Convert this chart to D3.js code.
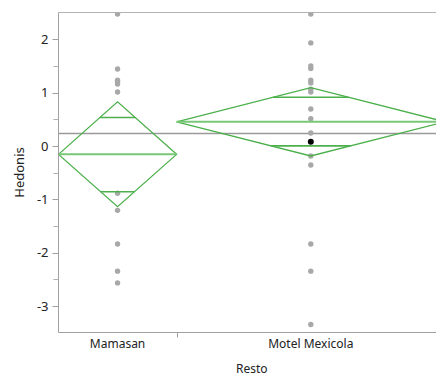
<!DOCTYPE html>
<html>
<head>
<meta charset="utf-8">
<script src="https://cdn.jsdelivr.net/npm/d3@7"></script>
<style>
  html, body { margin: 0; padding: 0; background: #fff; overflow: hidden; }
  svg { display: block; font-family: "Noto Sans", "Open Sans", sans-serif; }
</style>
</head>
<body>
<svg id="chart" width="436" height="376"></svg>
<script>
// ---- Data ----
const groups = ["Mamasan", "Motel Mexicola"];
const groupCounts = [11, 25];
const mamasanValues = [2.47, 1.44, 1.23, 1.20, 1.16, 1.01, -0.89, -1.21, -1.84, -2.35, -2.57];
const motelValues = [2.47, 1.93, 1.50, 1.45, 1.23, 1.18, 1.06, 1.01, 0.69, 0.51, 0.24, -0.19, -0.36, -1.84, -2.35, -3.35];
const highlightedValues = [null, 0.075];
const groupMeans = [-0.16, 0.45];
const ciUpper = [0.825, 1.09];
const ciLower = [-1.14, -0.19];
const overlapUpper = [0.53, 0.91];
const overlapLower = [-0.86, 0.0];
const grandMean = 0.25;
const yTicks = [-3, -2, -1, 0, 1, 2];
const yMinorTicks = [-2.5, -1.5, -0.5, 0.5, 1.5];
const yTitle = "Hedonis";
const xTitle = "Resto";

const groupValues = [mamasanValues, motelValues];

// ---- Layout ----
const svg = d3.select("#chart");
const L = 58.5, R = 445, T = 12.5, B = 332.5;
const total = d3.sum(groupCounts);
const x = d3.scaleLinear().domain([0, total]).range([L, R]);
const y = d3.scaleLinear().domain([-3.5, 2.5]).range([B, T]);

const starts = groupCounts.map((c, i) => d3.sum(groupCounts.slice(0, i)));
const gInfo = groups.map((g, i) => ({
  name: g,
  x0: x(starts[i]),
  x1: x(starts[i] + groupCounts[i]),
  xc: x(starts[i] + groupCounts[i] / 2),
  i
}));

const green = "#4cb04c";

svg.append("defs").append("clipPath").attr("id", "plotclip")
  .append("rect").attr("x", L).attr("y", T).attr("width", R - L).attr("height", B - T);

// frame top line
svg.append("line").attr("x1", L).attr("x2", 436).attr("y1", T).attr("y2", T)
  .attr("stroke", "#b4b4b4").attr("stroke-width", 1);

const plot = svg.append("g").attr("clip-path", "url(#plotclip)");

// grand mean line
plot.append("line").attr("x1", L).attr("x2", R)
  .attr("y1", Math.round(y(grandMean)) + 0.5).attr("y2", Math.round(y(grandMean)) + 0.5)
  .attr("stroke", "#9a9a9a").attr("stroke-width", 1.6);

// points
gInfo.forEach(g => {
  plot.selectAll(null).data(groupValues[g.i]).enter().append("circle")
    .attr("cx", g.xc).attr("cy", d => y(d)).attr("r", 2.7)
    .attr("fill", "#a8a8a8");
});

// diamonds
gInfo.forEach(g => {
  const i = g.i;
  const m = groupMeans[i], up = ciUpper[i], lo = ciLower[i];
  const pts = [[g.x0, y(m)], [g.xc, y(up)], [g.x1, y(m)], [g.xc, y(lo)]];
  plot.append("polygon").attr("points", pts.map(p => p.join(",")).join(" "))
    .attr("fill", "none").attr("stroke", green).attr("stroke-width", 1.3);
  // mean line
  plot.append("line").attr("x1", g.x0).attr("x2", g.x1).attr("y1", y(m)).attr("y2", y(m))
    .attr("stroke", "#78c878").attr("stroke-width", 2);
  // overlap marks
  [[overlapUpper[i], up], [overlapLower[i], lo]].forEach(([v, tip]) => {
    const f = 1 - (v - m) / (tip - m);
    const xa = g.xc - f * (g.xc - g.x0);
    const xb = g.xc + f * (g.x1 - g.xc);
    plot.append("line").attr("x1", xa).attr("x2", xb).attr("y1", y(v)).attr("y2", y(v))
      .attr("stroke", green).attr("stroke-width", 1.6);
  });
});

// highlighted point
gInfo.forEach(g => {
  const v = highlightedValues[g.i];
  if (v !== null) {
    plot.append("circle").attr("cx", g.xc).attr("cy", y(v)).attr("r", 3)
      .attr("fill", "#000");
  }
});

// y axis
const yAxis = svg.append("g").attr("transform", `translate(${L},0)`);
yAxis.append("line").attr("x1", 0).attr("x2", 0).attr("y1", T).attr("y2", B)
  .attr("stroke", "#a0a0a0");
yAxis.selectAll(".maj").data(yTicks).enter().append("line")
  .attr("x1", -6).attr("x2", 0).attr("y1", d => Math.round(y(d)) + 0.5).attr("y2", d => Math.round(y(d)) + 0.5)
  .attr("stroke", "#a0a0a0");
yAxis.selectAll(".min").data(yMinorTicks).enter().append("line")
  .attr("x1", -5).attr("x2", 0).attr("y1", d => Math.round(y(d)) + 0.5).attr("y2", d => Math.round(y(d)) + 0.5)
  .attr("stroke", "#b0b0b0");
yAxis.selectAll("text").data(yTicks).enter().append("text")
  .attr("x", -10).attr("y", d => y(d)).attr("dy", "0.36em")
  .attr("text-anchor", "end").attr("font-size", 13).attr("fill", "#222")
  .text(d => d);

svg.append("text")
  .attr("transform", `translate(24,${(T + B) / 2}) rotate(-90)`)
  .attr("text-anchor", "middle").attr("font-size", 13).attr("fill", "#222")
  .text(yTitle);

// x axis
const xAxis = svg.append("g");
xAxis.append("line").attr("x1", L).attr("x2", 436).attr("y1", B).attr("y2", B)
  .attr("stroke", "#a0a0a0");
gInfo.slice(1).forEach(g => {
  xAxis.append("line").attr("x1", Math.round(g.x0) + 0.5).attr("x2", Math.round(g.x0) + 0.5)
    .attr("y1", B).attr("y2", B + 5).attr("stroke", "#a0a0a0");
});
xAxis.selectAll("text").data(gInfo).enter().append("text")
  .attr("x", d => d.xc).attr("y", 348)
  .attr("text-anchor", "middle").attr("font-size", 12).attr("fill", "#222")
  .text(d => d.name);

svg.append("text").attr("x", (L + R) / 2).attr("y", 373)
  .attr("text-anchor", "middle").attr("font-size", 12).attr("fill", "#222")
  .text(xTitle);
</script>
</body>
</html>
